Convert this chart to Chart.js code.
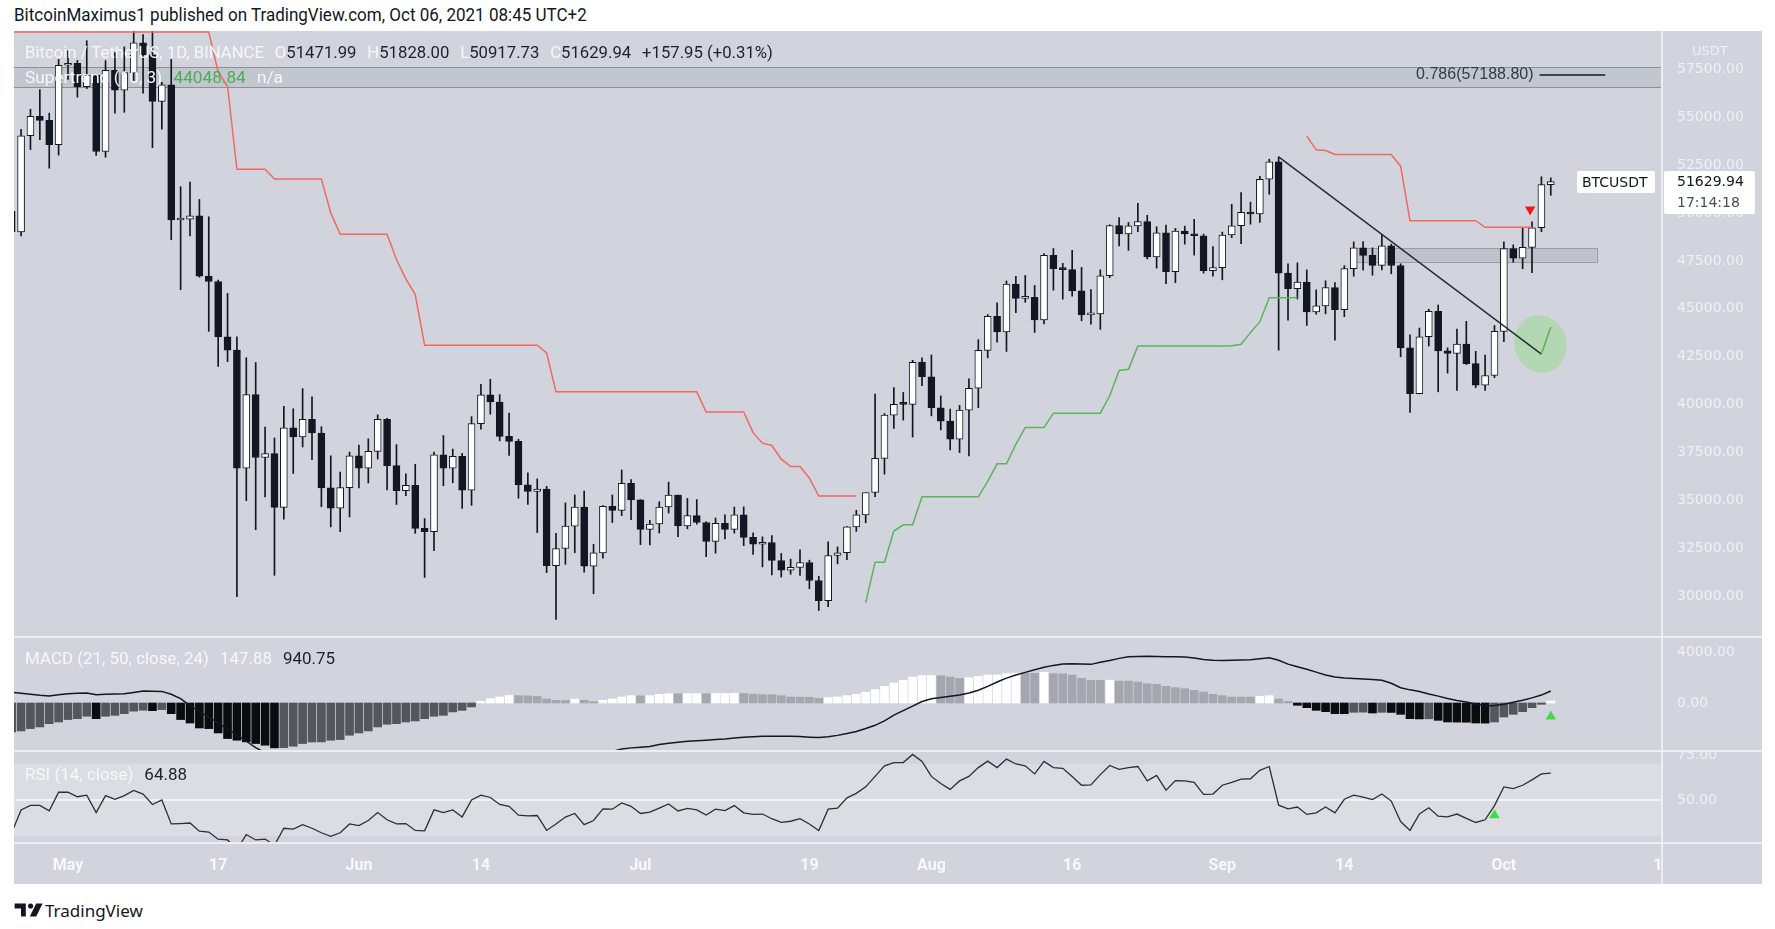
<!DOCTYPE html>
<html>
<head>
<meta charset="utf-8">
<title>BTCUSDT 1D - Supertrend, MACD, RSI</title>
<script src="https://cdn.jsdelivr.net/npm/chart.js@4.4.0/dist/chart.umd.min.js"></script>
<style>
  body { margin:0; background:#fff; width:1775px; height:929px; overflow:hidden; position:relative; font-family:Roboto,sans-serif; }
  .abs { position:absolute; white-space:nowrap; }
  #frame { left:14px; top:31px; width:1748px; height:853px; background:#d1d4dc; }
  canvas { position:absolute; left:14px; }
  .sep { position:absolute; background:#eceef2; }
  .leg { position:absolute; left:25px; font-size:17px; line-height:20px; white-space:nowrap; color:#f6f7f9; }
  .leg span { margin-right:11px; }
  .leg span:last-child { margin-right:0; }
  .dk { color:#1e222d; }
</style>
</head>
<body>
<div class="abs" id="hdr" style="left:14px;top:5px;font-size:17.5px;color:#131722">BitcoinMaximus1 published on TradingView.com, Oct 06, 2021 08:45 UTC+2</div>
<div class="abs" id="frame"></div>
<canvas id="mainChart" width="1748" height="606" style="top:31px"></canvas>
<canvas id="macdChart" width="1748" height="114" style="top:637px"></canvas>
<canvas id="rsiChart" width="1748" height="133" style="top:751px"></canvas>
<div class="sep" style="left:14px;top:636px;width:1748px;height:2px"></div>
<div class="sep" style="left:14px;top:750px;width:1748px;height:2px"></div>
<div class="sep" style="left:14px;top:842px;width:1748px;height:2px"></div>
<div class="sep" style="left:1661px;top:31px;width:2px;height:853px"></div>

<div class="leg" id="legMain" style="top:42px"></div>
<div class="leg" id="legST" style="top:67px"></div>
<div class="leg" id="legMacd" style="top:648px"></div>
<div class="leg" id="legRsi" style="top:764px"></div>
<div class="abs" style="left:1692px;top:43px;font:13px 'DejaVu Sans';color:#eef0f4">USDT</div>

<div class="abs" style="left:14px;top:902px">
  <svg width="30" height="16" viewBox="0 0 36 20"><path d="M14 18H8V8H0V2h14z" fill="#131722"/><circle cx="20" cy="5" r="3.2" fill="#131722"/><path d="M27 2h8l-8 16h-8z" fill="#131722"/></svg>
</div>
<div class="abs" style="left:45px;top:899px;font:17px 'Noto Sans';color:#131722">TradingView</div>

<script>
// daily candles BTCUSDT (Binance), 25 Apr 2021 .. 6 Oct 2021
const firstDay = -6; // 25 Apr, counted in days from 1 May
const candleOpen = [
  50088,49004,54021,55033,54824,53555,
  57694,57800,56578,57169,53200,57436,56393,57314,58862,58240,55816,56670,49631,49670,49841,46708,46426,43538,42849,36690,40526,37252,37449,34655,38796,38324,39241,38529,35664,34605,35678,
  37333,36694,37568,39246,36830,35520,35797,33553,33381,37389,36693,37313,35546,39020,40516,40144,38349,38092,35820,35483,35600,31608,32509,33678,34663,31584,32283,34700,34494,35911,
  35045,33504,33786,34669,35286,33690,34220,33862,32875,33815,33502,34259,33087,32730,32820,31880,31383,31520,31778,30839,29790,32144,32287,33634,34259,35425,37208,39456,40019,40016,42206,
  41461,39845,39147,38207,39723,40862,42836,44614,43792,46285,45543,45595,44428,47793,47096,47047,45936,44686,44741,46723,49339,48905,49321,49546,47706,48960,46942,49058,48902,48807,46991,
  47150,48847,49328,50025,49944,51753,52663,46863,46048,46395,44843,45154,46106,44960,47092,48176,47783,47267,48278,47260,42961,40584,43543,44865,42810,42670,43160,42147,41026,41524,
  43824,48141,47634,48200,49225,51471.99
];
const candleHigh = [
  50500,54356,55400,56428,55200,58000,
  58448,57950,58973,57200,57939,58360,58650,59500,59300,59500,56800,58000,51367,51600,50700,49800,46500,45800,43546,42451,42200,38830,38270,39920,39791,40841,40411,38856,37338,36488,37533,
  37894,38225,39476,39289,37920,36400,36900,34068,37534,38400,37690,37463,39380,41064,41330,40527,39560,38202,36457,36137,35750,33298,34881,35298,35500,32730,34749,35297,36600,36100,
  35057,33977,34945,35967,35293,35118,35059,33900,34100,34262,34666,34679,33331,33114,33185,32249,31955,32435,31899,31063,32858,32591,33650,34500,35398,40550,39542,40900,40640,42316,42448,
  42599,40459,39780,39969,41350,43392,44700,45310,46454,46700,46743,46218,47886,48144,47372,48053,47160,46000,47033,49382,49757,49500,50500,49875,49277,49368,49193,49309,49667,48896,48250,
  49000,50450,51054,50558,51900,52800,52920,47340,47399,47033,45987,46460,46364,47250,48486,48500,48177,48843,48372,47347,43639,44000,44978,45200,42966,43950,44350,42787,42590,44132,
  48495,48336,49228,49536,51886,51828
];
const candleLow = [
  47000,48800,53300,53813,52330,53013,
  56956,56035,56478,53000,52900,55200,55241,56900,56235,53400,54370,48600,46000,48800,46650,43825,42001,42250,30000,35000,33488,35200,31111,34031,36419,37800,37134,34684,33632,33379,34153,
  35666,35920,37170,35555,34800,35258,33300,31000,32396,35782,35936,34600,34757,38730,39506,38116,37365,35129,34803,33336,31251,28805,31683,32286,31275,30151,32000,33862,34225,34017,
  32711,32699,33316,34357,33125,33532,33777,32077,32261,33004,33306,32658,32202,31550,31133,31020,31164,31108,30407,29278,29482,31708,31924,33401,33851,35206,36383,38772,39200,38313,41000,
  39422,38690,37642,37508,37332,39853,42446,43261,42779,44800,45341,43770,44217,45971,45500,45660,44376,44203,43927,46628,48273,48050,49028,47600,47122,46315,46363,48370,47800,46860,46700,
  46513,48711,48400,49412,49500,50969,42843,44412,45513,44132,44722,44742,43370,44594,46698,47020,46750,47033,46829,42500,39600,40565,43062,40675,41646,40750,42098,40888,40753,41410,
  43283,47430,47088,46891,49022,50917.73
];
const candleClose = [
  49004,54021,55033,54824,53555,57694,
  57800,56578,57169,53200,57436,56393,57314,58862,58240,55816,56670,49631,49670,49841,46708,46426,43538,42849,36690,40526,37252,37449,34655,38796,38324,39241,38529,35664,34605,35678,37333,
  36694,37568,39246,36830,35520,35797,33553,33381,37389,36693,37313,35546,39020,40516,40144,38349,38092,35820,35483,35600,31608,32509,33678,34663,31584,32283,34700,34494,35911,35045,
  33504,33786,34669,35286,33690,34220,33862,32875,33815,33502,34259,33087,32730,32820,31880,31383,31520,31778,30839,29790,32144,32287,33634,34259,35425,37208,39456,40019,40016,42206,41461,
  39845,39147,38207,39723,40862,42836,44614,43792,46285,45543,45595,44428,47793,47096,47047,45936,44686,44741,46723,49339,48905,49321,49546,47706,48960,46942,49058,48902,48807,46991,47150,
  48847,49328,50025,49944,51753,52663,46863,46048,46395,44843,45154,46106,44960,47092,48176,47783,47267,48278,47260,42961,40584,43543,44865,42810,42670,43160,42147,41026,41524,43824,
  48141,47634,48200,49225,51471.99,51629.94
];

// Supertrend (10, 3): red while bearish, green while bullish
const stDown = [
  59430,59430,59430,59430,59430,59430,
  59430,59430,59430,59430,59430,59430,59430,59430,59430,59430,59430,59430,59430,59430,59430,59430,57350,56600,52270,52270,52270,52270,51770,51770,51770,51770,51770,51770,50000,48890,48890,
  48890,48890,48890,48890,47570,46560,45740,43107,43107,43107,43107,43107,43107,43107,43107,43107,43107,43107,43107,43107,42700,40674,40674,40674,40674,40674,40674,40674,40674,40674,
  40674,40674,40674,40674,40674,40674,40674,39620,39620,39620,39620,39620,38547,38000,37875,37165,36780,36780,36175,35244,35244,35244,35244,35244,null,null,null,null,null,null,null,
  null,null,null,null,null,null,null,null,null,null,null,null,null,null,null,null,null,null,null,null,null,null,null,null,null,null,null,null,null,null,null,
  null,null,null,null,null,null,null,null,null,54000,53290,53250,53045,53045,53045,53045,53045,53045,53045,52435,49595,49595,49595,49595,49595,49595,49595,49595,49250,49250,
  49250,49250,49250,49250,null,null
];
const stUp = [
  null,null,null,null,null,null,
  null,null,null,null,null,null,null,null,null,null,null,null,null,null,null,null,null,null,null,null,null,null,null,null,null,null,null,null,null,null,null,
  null,null,null,null,null,null,null,null,null,null,null,null,null,null,null,null,null,null,null,null,null,null,null,null,null,null,null,null,null,null,
  null,null,null,null,null,null,null,null,null,null,null,null,null,null,null,null,null,null,null,null,null,null,null,null,29683,31795,31795,33415,33743,33743,35200,
  35200,35200,35200,35200,35200,35200,36010,36920,36920,37940,38810,38810,38810,39560,39560,39560,39560,39560,39560,40470,41790,41850,43065,43065,43065,43065,43065,43065,43065,43065,43065,
  43065,43080,43150,43760,44330,45580,45580,45580,45580,null,null,null,null,null,null,null,null,null,null,null,null,null,null,null,null,null,null,null,null,null,
  null,null,null,null,42640,44048.84
];

// MACD (21, 50, close, 24): histogram and MACD line
const macdHist = [
  -2270,-2190,-2010,-1880,-1620,-1490,
  -1300,-1230,-1040,-1230,-1040,-970,-835,-640,-570,-600,-520,-835,-1300,-1570,-1960,-2010,-2350,-2790,-2920,-3050,-3180,-3310,-3520,-3500,-3390,-3180,-3060,-3050,-2920,-2870,-2530,
  -2350,-2190,-1880,-1670,-1620,-1490,-1410,-1230,-1040,-970,-700,-575,-310,130,340,470,590,575,560,520,310,210,200,310,210,105,210,310,470,575,
  560,580,680,730,720,735,745,730,740,750,760,745,690,660,650,575,470,460,450,365,420,470,575,680,835,1045,1305,1566,1775,2036,2140,
  2150,2140,2036,1930,1980,2090,2190,2200,2300,2350,2340,2330,2400,2300,2290,2190,1930,1775,1770,1790,1720,1715,1640,1510,1460,1305,1200,1120,990,860,680,
  575,470,465,460,520,575,310,130,-180,-365,-575,-680,-835,-840,-730,-720,-785,-730,-740,-890,-1230,-1250,-1240,-1360,-1490,-1500,-1510,-1570,-1580,-1490,
  -1100,-890,-680,-365,-105,147.88
];
const macdLine = [
  835,760,680,600,550,650,
  730,760,780,650,690,710,730,830,940,930,910,680,350,-200,-650,-1100,-1550,-2050,-2500,-3000,-3500,-3900,-4250,-4600,-4800,-4950,-5050,-5150,-5300,-5400,-5450,
  -5450,-5400,-5400,-5350,-5250,-5100,-5050,-4950,-4800,-4700,-4600,-4500,-4400,-4300,-4200,-4100,-4000,-3950,-3900,-3900,-3950,-4000,-3950,-3900,-3900,-3880,-3850,-3800,-3600,-3520,
  -3470,-3420,-3250,-3150,-3080,-3000,-2960,-2920,-2870,-2820,-2740,-2680,-2640,-2610,-2600,-2600,-2610,-2630,-2680,-2715,-2640,-2540,-2400,-2230,-2000,-1750,-1400,-950,-600,-250,120,
  330,430,520,620,780,1000,1300,1650,1950,2200,2400,2600,2800,2950,3050,3080,3050,3030,3200,3330,3500,3620,3650,3660,3650,3630,3620,3600,3520,3420,3350,
  3340,3360,3380,3400,3470,3550,3350,3050,2850,2650,2420,2200,2040,1960,1920,1890,1840,1790,1550,1200,1030,900,700,540,360,200,80,-80,-230,-200,
  -100,60,210,400,620,940.75
];

// RSI (14, close)
const rsiValues = [
  31.8,44.5,47,47,44,54.3,
  54.3,51.8,52.7,43,52.4,50.4,52.4,55.3,53.3,47.5,50,36.7,36.9,37.2,32.7,32.2,28.2,27.8,22.5,30.8,27.8,28.3,24.9,34.3,33.8,36.3,34.3,31.8,29.8,31.8,36.7,
  35.8,38.6,43,39,36.7,36.9,33.1,32.9,44.5,43,44.5,40.6,50,52.7,51.4,47.5,46.5,41.6,41.2,41.4,33.1,36.7,40.5,42.5,36.3,38.6,45.1,44.9,48.4,46.5,
  42.5,43.3,45.5,47.8,43.9,45.3,44.5,41.6,44.9,44.1,46.9,42.9,42,42.2,39.6,37.6,38.2,39.6,36.7,33.1,44.9,45.5,51.2,53.7,57.3,63.1,69,70.8,70.8,75.3,71.4,
  63.1,59.2,55.9,60.6,63.1,68,71.6,68,72.7,70,69,64.5,71.4,68,67.6,63.1,58.2,58.4,64.1,69.2,67,68,68.6,60.6,63.7,55.5,60.8,60.6,59.8,53.1,53.3,
  58.2,59.8,61.6,61.8,66.5,68.6,47.1,45.1,46.1,42,42.9,46.1,42.9,50.4,52.7,51.6,50.2,53.3,49.4,38,33.1,42.2,45.7,41,40.6,42.2,39.8,37.5,39,46.9,
  57.3,56.3,58.2,61.2,64.5,64.88
];

// axis ticks
const priceTicks = [30000, 32500, 35000, 37500, 40000, 42500, 45000, 47500, 50000, 52500, 55000, 57500];
const macdTicks = [0, 4000];
const rsiTicks = [50, 75];
const tickDays = [0, 16, 31, 44, 61, 79, 92, 107, 123, 136, 153, 169.4];
const tickLabels = ['May', '17', 'Jun', '14', 'Jul', '19', 'Aug', '16', 'Sep', '14', 'Oct', '1'];

// drawings on the price pane
const fibBand = [56552, 57615];
const fibLevel = 57188.80;
const fibLabel = '0.786(57188.80)';
const fibLineDays = [156.8, 163.8];
const zoneBox = { from: 136.9, to: 162.9, low: 47450, high: 48170 };
const trendLine = [{ x: 129, y: 52920 }, { x: 157, y: 42640 }];
const highlight = { x: 156.9, y: 43163 };
const sellMark = [{ x: 155.8, y: 50180 }];
const macdMark = [{ x: 158, y: -1050 }];
const rsiMark = [{ x: 152, y: 41.5 }];
const clockText = '17:14:18';

const viewFrom = -5.754, viewTo = 169.85;
const days = candleClose.map((_, i) => firstDay + i);
const last = candleClose.length - 1;
const ink = '#131722';

// legends
const chg = candleClose[last] - candleClose[last - 1];
const num = v => '<b class="dk" style="font-weight:normal">' + v.toFixed(2) + '</b>';
document.getElementById('legMain').innerHTML =
  '<span>Bitcoin / TetherUS, 1D, BINANCE</span>' +
  '<span>O' + num(candleOpen[last]) + '</span>' +
  '<span>H' + num(candleHigh[last]) + '</span>' +
  '<span>L' + num(candleLow[last]) + '</span>' +
  '<span>C' + num(candleClose[last]) + '</span>' +
  '<span class="dk">+' + chg.toFixed(2) + ' (+' + (chg / candleClose[last - 1] * 100).toFixed(2) + '%)</span>';
document.getElementById('legST').innerHTML =
  '<span>Supertrend (10, 3)</span><span style="color:#4caf50">' + stUp[last].toFixed(2) + '</span><span>n/a</span>';
document.getElementById('legMacd').innerHTML =
  '<span>MACD (21, 50, close, 24)</span><span>' + macdHist[last].toFixed(2) + '</span><span class="dk">' + macdLine[last].toFixed(2) + '</span>';
document.getElementById('legRsi').innerHTML =
  '<span>RSI (14, close)</span><span class="dk">' + rsiValues[last].toFixed(2) + '</span>';

// squeeze the texts to the condensed width of the snapshot font
function squeeze(id, width) {
  const el = document.getElementById(id);
  const w = el.getBoundingClientRect().width;
  el.style.transformOrigin = 'left center';
  el.style.transform = 'scaleX(' + (width / w).toFixed(3) + ')';
}
squeeze('hdr', 573);
squeeze('legMain', 748);
squeeze('legST', 258);
squeeze('legMacd', 310);
squeeze('legRsi', 162);

function xAxis(show) {
  return {
    type: 'linear', min: viewFrom, max: viewTo, offset: false, display: show,
    grid: { display: false, drawTicks: false }, border: { display: false },
    afterBuildTicks: s => { s.ticks = tickDays.map(v => ({ value: v })); },
    ticks: { autoSkip: false, maxRotation: 0, padding: 13, color: '#f7f8fa',
             font: { family: 'Roboto', size: 16, weight: 'bold' },
             callback: (v, i) => tickLabels[i] },
    afterFit: s => { if (show) s.height = 41; s.paddingLeft = 0; s.paddingRight = 0; }
  };
}
function yAxis(min, max, ticks) {
  return {
    position: 'right', min: min, max: max,
    grid: { display: false, drawTicks: false }, border: { display: false },
    afterBuildTicks: s => { s.ticks = ticks.map(v => ({ value: v })); },
    ticks: { padding: 15, color: '#eef0f4', font: { family: 'DejaVu Sans', size: 14 },
             callback: v => v.toFixed(2) },
    afterFit: s => { s.width = 100; s.paddingTop = 0; s.paddingBottom = 0; }
  };
}
const common = {
  responsive: false, animation: false, events: [],
  layout: { padding: 0, autoPadding: false },
  plugins: { legend: { display: false }, tooltip: { enabled: false } }
};

//== price pane extras: fib band, zone, ellipse, labels
const mainDecor = {
  id: 'mainDecor',
  beforeDatasetsDraw(chart) {
    const { ctx, chartArea: a, scales: { x, y } } = chart;
    ctx.save();
    const ft = Math.round(y.getPixelForValue(fibBand[1])), fb = Math.round(y.getPixelForValue(fibBand[0]));
    ctx.fillStyle = 'rgba(120,123,134,0.16)';
    ctx.fillRect(a.left, ft, a.right - a.left, fb - ft);
    ctx.strokeStyle = '#8d9098';
    ctx.lineWidth = 1;
    ctx.beginPath();
    ctx.moveTo(a.left, ft + 0.5); ctx.lineTo(a.right, ft + 0.5);
    ctx.moveTo(a.left, fb + 0.5); ctx.lineTo(a.right, fb + 0.5);
    ctx.stroke();

    const zx1 = x.getPixelForValue(zoneBox.from), zx2 = x.getPixelForValue(zoneBox.to);
    const zy1 = y.getPixelForValue(zoneBox.high), zy2 = y.getPixelForValue(zoneBox.low);
    ctx.fillStyle = 'rgba(120,123,134,0.2)';
    ctx.fillRect(zx1, zy1, zx2 - zx1, zy2 - zy1);
    ctx.strokeStyle = '#9a9da5';
    ctx.strokeRect(Math.round(zx1) + 0.5, Math.round(zy1) + 0.5, Math.round(zx2 - zx1), Math.round(zy2 - zy1));

    ctx.fillStyle = 'rgba(120,220,100,0.35)';
    ctx.beginPath();
    ctx.ellipse(x.getPixelForValue(highlight.x), y.getPixelForValue(highlight.y), 26, 29, -0.3, 0, Math.PI * 2);
    ctx.fill();
    ctx.restore();
  },
  afterDatasetsDraw(chart) {
    const { ctx, scales: { x, y } } = chart;
    ctx.save();
    ctx.font = "16px 'Liberation Sans'";
    ctx.fillStyle = '#363a45';
    ctx.textAlign = 'right';
    ctx.textBaseline = 'middle';
    ctx.fillText(fibLabel, x.getPixelForValue(fibLineDays[0]) - 6, y.getPixelForValue(fibLevel));
    ctx.restore();
  },
  afterDraw(chart) {
    const { ctx, chartArea: a, scales: { y } } = chart;
    const py = Math.round(y.getPixelForValue(candleClose[last]));
    ctx.save();
    ctx.fillStyle = '#ffffff';
    ctx.beginPath(); ctx.roundRect(a.right - 85, py - 11, 78, 22, 2); ctx.fill();
    ctx.beginPath(); ctx.roundRect(a.right + 2, py - 11, 91, 43, 2); ctx.fill();
    ctx.font = "14px 'DejaVu Sans'";
    ctx.textBaseline = 'middle';
    ctx.textAlign = 'left';
    ctx.fillStyle = ink;
    ctx.fillText('BTCUSDT', a.right - 80, py + 1);
    ctx.fillText(candleClose[last].toFixed(2), a.right + 15, py);
    ctx.fillStyle = '#4a4e59';
    ctx.fillText(clockText, a.right + 15, py + 21);
    ctx.restore();
  }
};

new Chart(document.getElementById('mainChart'), {
  type: 'bar',
  data: {
    datasets: [
      { type: 'line', data: days.map((d, i) => ({ x: d, y: stDown[i] })), borderColor: '#ef6a60', borderWidth: 1.5,
        pointRadius: 0, spanGaps: false, order: 0 },
      { type: 'line', data: days.map((d, i) => ({ x: d, y: stUp[i] })), borderColor: '#5cb35c', borderWidth: 1.5,
        pointRadius: 0, spanGaps: false, order: 0 },
      { type: 'line', data: trendLine, borderColor: '#23262e', borderWidth: 1.3, pointRadius: 0, order: 0 },
      { type: 'line', data: fibLineDays.map(d => ({ x: d, y: fibLevel })), borderColor: ink, borderWidth: 1.5, pointRadius: 0, order: 0 },
      { type: 'line', data: sellMark, showLine: false, pointStyle: 'triangle', rotation: 180, pointRadius: 6,
        pointBackgroundColor: '#f01818', pointBorderWidth: 0, order: 0 },
      { data: days.map((d, i) => ({ x: d, y: [candleOpen[i], candleClose[i]] })),
        backgroundColor: candleClose.map((c, i) => c >= candleOpen[i] ? '#ffffff' : ink),
        borderColor: ink, borderWidth: 1, borderSkipped: false, barThickness: 7, minBarLength: 2,
        grouped: false, order: 1 },
      { data: days.map((d, i) => ({ x: d, y: [candleLow[i], candleHigh[i]] })),
        backgroundColor: ink, barThickness: 1, grouped: false, order: 2 }
    ]
  },
  options: Object.assign({}, common, {
    scales: { x: xAxis(false), y: yAxis(27895, 59481, priceTicks) }
  }),
  plugins: [mainDecor]
});

//== MACD pane
const histColors = macdHist.map((h, i) => {
  const prev = i ? macdHist[i - 1] : -Infinity;
  if (h >= 0) return h > prev ? '#ffffff' : '#a4a7ae';
  return h > prev ? '#54565c' : '#0b0c0f';
});
new Chart(document.getElementById('macdChart'), {
  type: 'bar',
  data: {
    datasets: [
      { type: 'line', data: days.map((d, i) => ({ x: d, y: macdLine[i] })), borderColor: ink, borderWidth: 1.5, pointRadius: 0, order: 0 },
      { type: 'line', data: macdMark, showLine: false, pointStyle: 'triangle', pointRadius: 6,
        pointBackgroundColor: '#3fdd3f', pointBorderWidth: 0, order: 0 },
      { data: days.map((d, i) => ({ x: d, y: macdHist[i] })), backgroundColor: histColors,
        barThickness: 8, grouped: false, order: 1 }
    ]
  },
  options: Object.assign({}, common, {
    scales: { x: xAxis(false), y: yAxis(-3765, 5176, macdTicks) }
  })
});

//== RSI pane with 30-70 band and the 50 line
const rsiBand = {
  id: 'rsiBand',
  beforeDatasetsDraw(chart) {
    const { ctx, chartArea: a, scales: { y } } = chart;
    const t = y.getPixelForValue(70), b = y.getPixelForValue(30), m = y.getPixelForValue(50);
    ctx.save();
    ctx.fillStyle = '#dbdde3';
    ctx.fillRect(a.left, t, a.right - a.left, b - t);
    ctx.fillStyle = '#f1f2f5';
    ctx.fillRect(a.left, m - 1, a.right - a.left, 2);
    ctx.restore();
  }
};
new Chart(document.getElementById('rsiChart'), {
  type: 'line',
  data: {
    datasets: [
      { data: rsiMark, showLine: false, pointStyle: 'triangle', pointRadius: 6,
        pointBackgroundColor: '#3fdd3f', pointBorderWidth: 0 },
      { data: days.map((d, i) => ({ x: d, y: rsiValues[i] })), borderColor: '#2a2e39', borderWidth: 1.3, pointRadius: 0 }
    ]
  },
  options: Object.assign({}, common, {
    scales: { x: xAxis(true), y: yAxis(26.11, 77.22, rsiTicks) }
  }),
  plugins: [rsiBand]
});
</script>
</body>
</html>
